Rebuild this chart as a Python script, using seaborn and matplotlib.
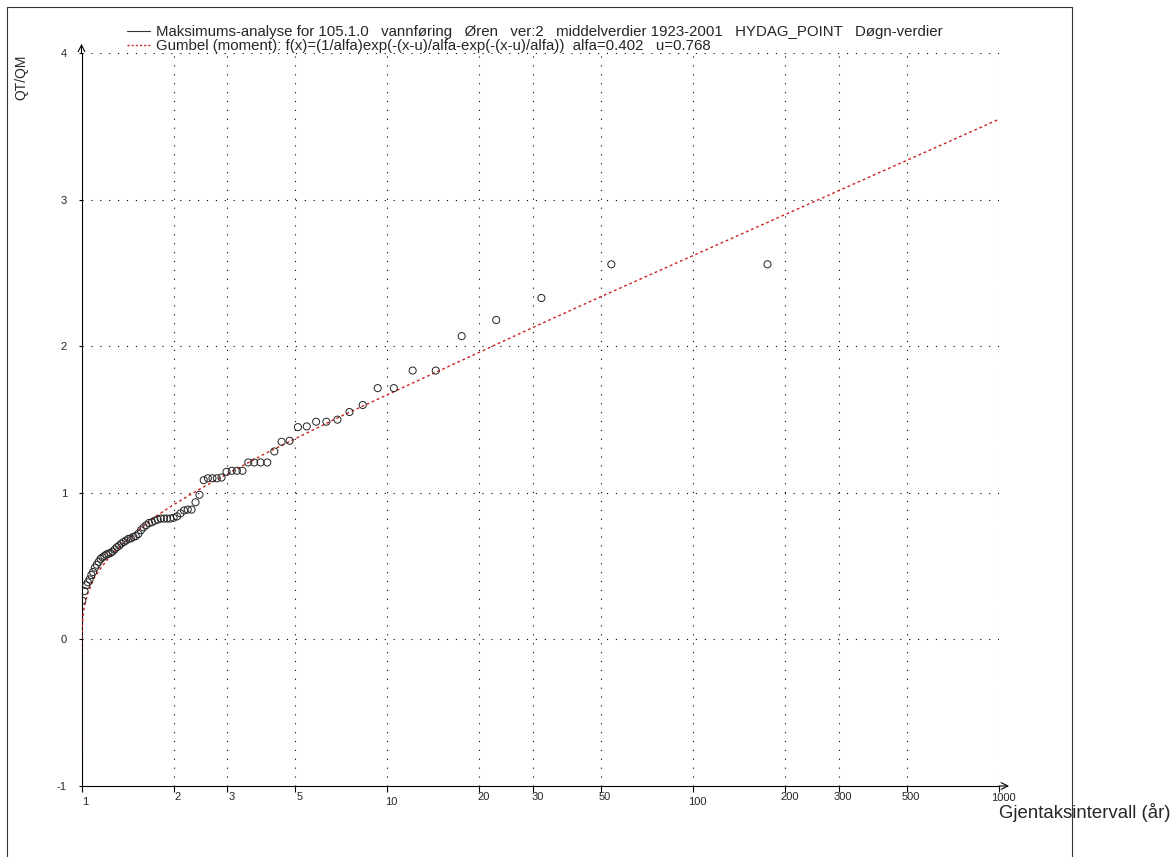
import numpy as np
import matplotlib
matplotlib.use('Agg')
import matplotlib.pyplot as plt
import matplotlib.transforms as mtransforms
from matplotlib.lines import Line2D
import seaborn as sns

# Observed annual maxima (QT/QM), sorted descending, with plotted return periods (years)
return_period = [175, 54.0, 31.9, 22.7, 17.5, 14.4, 12.1, 10.5, 9.3, 8.31,
                 7.52, 6.87, 6.32, 5.85, 5.45, 5.10, 4.79, 4.51, 4.27, 4.05,
                 3.85, 3.67, 3.51, 3.36, 3.22, 3.10, 2.98, 2.87, 2.77, 2.68,
                 2.59, 2.51, 2.43, 2.36, 2.29, 2.225, 2.164, 2.107, 2.052, 2.000,
                 1.951, 1.904, 1.859, 1.816, 1.775, 1.736, 1.699, 1.663, 1.629, 1.596,
                 1.564, 1.534, 1.505, 1.477, 1.450, 1.423, 1.398, 1.374, 1.350, 1.328,
                 1.306, 1.285, 1.264, 1.244, 1.225, 1.206, 1.188, 1.171, 1.154, 1.138,
                 1.122, 1.106, 1.091, 1.077, 1.063, 1.049, 1.036, 1.023, 1.006]
qt_qm = [2.56, 2.56, 2.33, 2.18, 2.07, 1.835, 1.835, 1.715, 1.715, 1.60,
         1.552, 1.500, 1.486, 1.486, 1.454, 1.449, 1.356, 1.349, 1.283, 1.208,
         1.208, 1.208, 1.208, 1.151, 1.151, 1.151, 1.144, 1.105, 1.100, 1.100,
         1.100, 1.087, 0.987, 0.936, 0.886, 0.886, 0.88, 0.86, 0.84, 0.83,
         0.825, 0.825, 0.825, 0.825, 0.818, 0.81, 0.80, 0.795, 0.78, 0.765,
         0.745, 0.72, 0.705, 0.70, 0.69, 0.686, 0.675, 0.665, 0.655, 0.64,
         0.63, 0.615, 0.60, 0.59, 0.585, 0.58, 0.57, 0.56, 0.55, 0.53,
         0.51, 0.49, 0.46, 0.44, 0.41, 0.39, 0.37, 0.33, 0.265]

# Fitted Gumbel curve
gumbel_T = [1.0000001, 1.00001, 1.0001, 1.001, 1.01, 1.02, 1.03, 1.05, 1.1, 1.15,
            1.2, 1.25, 1.3, 1.5, 1.75, 2, 2.5, 3, 4, 5, 7, 10, 15, 20, 30,
            50, 100, 200, 500, 1000]
gumbel_Q = [-0.75, -0.21, -0.12, -0.01, 0.15, 0.22, 0.26, 0.32, 0.42, 0.48,
            0.53, 0.58, 0.61, 0.73, 0.84, 0.92, 1.04, 1.13, 1.27, 1.37, 1.52, 1.67, 1.84, 1.96, 2.13,
            2.34, 2.62, 2.90, 3.27, 3.55]

x_ticks = [1, 2, 3, 5, 10, 20, 30, 50, 100, 200, 300, 500, 1000]
x_tick_labels = ['1', '2', '3', '5', '10', '20', '30', '50', '100', '200', '300', '500', '1000']
y_ticks = [-1, 0, 1, 2, 3, 4]

label_obs = ('Maksimums-analyse for 105.1.0   vannføring   Øren   ver:2   middelverdier 1923-2001   '
             'HYDAG_POINT   Døgn-verdier')
label_fit = 'Gumbel (moment): f(x)=(1/alfa)exp(-(x-u)/alfa-exp(-(x-u)/alfa))  alfa=0.402   u=0.768'

sns.set_theme(style='white')
plt.rcParams['font.family'] = ['Liberation Sans', 'DejaVu Sans']

W, H = 1174, 857
fig = plt.figure(figsize=(W / 100, H / 100), dpi=100)
ax = fig.add_axes([81.5 / W, 1 - 786 / H, 917.5 / W, 732.7 / H])

ax.set_xscale('log')
ax.set_xlim(1, 1000)
ax.set_ylim(-1, 4)

dotted = (0, (1, 7))
for t in x_ticks[1:]:
    ax.axvline(t, color='black', lw=0.8, ls=dotted, zorder=0)
for v in y_ticks[1:]:
    ax.axhline(v, color='black', lw=0.8, ls=dotted, zorder=0)

sns.lineplot(x=gumbel_T, y=gumbel_Q, ax=ax, color='#cc2020', lw=1.0,
             linestyle=(0, (2, 2)), sort=False, estimator=None, zorder=3)
sns.scatterplot(x=return_period, y=qt_qm, ax=ax, marker='o', s=26,
                facecolors='none', edgecolors='#222222', linewidths=0.7, zorder=4)

for side in ['top', 'right']:
    ax.spines[side].set_visible(False)
for side in ['left', 'bottom']:
    ax.spines[side].set_color('black')
    ax.spines[side].set_linewidth(0.8)

ax.set_xticks(x_ticks)
ax.set_xticklabels([''] * len(x_ticks))
ax.xaxis.set_minor_locator(matplotlib.ticker.NullLocator())
ax.set_yticks(y_ticks)
ax.set_yticklabels([str(v) for v in y_ticks])
ax.tick_params(axis='x', direction='out', length=4, width=0.8, color='black', bottom=True)
ax.tick_params(axis='y', direction='out', length=2.5, width=0.8, color='black',
               left=True, labelsize=8, pad=8)

for t, lab in zip(x_ticks, x_tick_labels):
    if lab == '1000':
        dy = -8.4
    elif lab in ('1', '10', '100'):
        dy = -11.5
    else:
        dy = -7.9
    tr = mtransforms.offset_copy(ax.get_xaxis_transform(), fig=fig, x=2.9, y=dy, units='points')
    ax.text(t, 0, lab, transform=tr, ha='center', va='center', fontsize=8)

ax.set_xlabel('Gjentaksintervall (år)', fontsize=13.4, ha='left', va='center')
ax.xaxis.set_label_coords(1.0, -0.0355)
ax.set_ylabel('QT/QM', fontsize=10, va='center')
ax.yaxis.set_label_coords(-0.066, 0.9677)

arrow = dict(arrowstyle='->', lw=0.8, color='black', shrinkA=0, shrinkB=0, mutation_scale=12)
ax.annotate('', xy=(1.011, 0), xytext=(1.0, 0), xycoords='axes fraction',
            arrowprops=arrow, annotation_clip=False)
ax.annotate('', xy=(0, 1.013), xytext=(0, 1.0), xycoords='axes fraction',
            arrowprops=arrow, annotation_clip=False)

handles = [Line2D([], [], color='#333333', lw=0.8),
           Line2D([], [], color='#cc2020', lw=1.0, ls=(0, (1.5, 1.5)))]
fig.legend(handles, [label_obs, label_fit], loc='upper left',
           bbox_to_anchor=(127 / W, 1 - 25 / H), frameon=False, fontsize=10.8,
           handlelength=1.55, handletextpad=0.4, labelspacing=0.0, borderpad=0, borderaxespad=0)

# outer frame
for xs, ys in [([7, 7], [857, 7]), ([7, 1072], [7, 7]), ([1072, 1072], [7, 857])]:
    fig.add_artist(Line2D([x / W for x in xs], [1 - y / H for y in ys],
                          transform=fig.transFigure, color='#333333', lw=0.8))

fig.savefig('out.png', dpi=100)
